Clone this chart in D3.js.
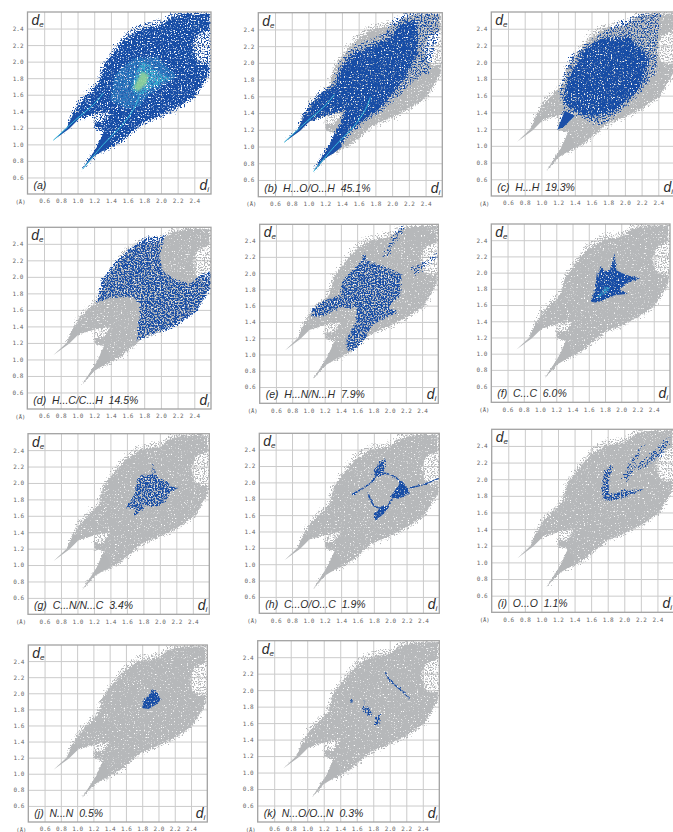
<!DOCTYPE html>
<html>
<head>
<meta charset="utf-8">
<script src="https://cdn.jsdelivr.net/npm/d3@7"></script>
<style>
html, body { margin: 0; padding: 0; background: #fff; overflow: hidden; }
svg { display: block; }
.tick text { font-family: "DejaVu Sans Mono", monospace; font-size: 6px; fill: #666; }
.domain { stroke: none; }
.tick line { stroke: #cbcbcb; stroke-width: 1; }
.lbl { font-family: "Liberation Sans", sans-serif; font-style: italic; fill: #2b2b2b; }
</style>
</head>
<body>
<div class="viz"></div>
<script>
// fingerprint plots : outlines, [di, de] in angstrom
var tick_values = [0.6, 0.8, 1.0, 1.2, 1.4, 1.6, 1.8, 2.0, 2.2, 2.4];
var axis_domain = [0.4, 2.6];

var captions = ["(a)", "(b)  H...O/O...H  45.1%", "(c)  H...H  19.3%", "(d)  H...C/C...H  14.5%",
    "(e)  H...N/N...H  7.9%", "(f)  C...C  6.0%", "(g)  C...N/N...C  3.4%", "(h)  C...O/O...C  1.9%",
    "(i)  O...O  1.1%", "(j)  N...N  0.5%", "(k)  N...O/O...N  0.3%"];

// whole plot, thin outer rim
var rim = [[.71,1.05],[.87,1.2],[.92,1.36],[1.01,1.53],[1.15,1.68],[1.24,1.76],[1.29,1.96],[1.43,2.16],[1.57,2.34],
    [1.75,2.46],[2.03,2.51],[2.13,2.6],[2.6,2.6],[2.6,1.88],[2.43,1.58],[2.23,1.44],[1.99,1.32],[1.79,1.24],[1.67,1.14],
    [1.53,1.02],[1.35,.92],[1.25,.9],[1.06,.7],[1.23,.96],[1.32,1.16],[1.21,1.19],[1.19,1.3],[1.22,1.37],[.97,1.29]];
// whole plot, dense part
var core = [[.71,1.05],[.87,1.2],[.93,1.34],[1.03,1.51],[1.17,1.64],[1.26,1.74],[1.31,1.94],[1.44,2.12],[1.58,2.28],
    [1.76,2.4],[2.0,2.44],[2.13,2.54],[2.3,2.58],[2.58,2.58],[2.58,2.38],[2.44,2.32],[2.38,2.18],[2.42,2.02],[2.5,1.97],
    [2.58,1.98],[2.58,1.87],[2.42,1.6],[2.22,1.46],[1.98,1.34],[1.78,1.26],[1.66,1.16],[1.52,1.04],[1.35,.94],[1.25,.92],
    [1.06,.7],[1.23,.96],[1.32,1.16],[1.21,1.19],[1.2,1.27],[1.31,1.27],[1.4,1.4],[1.23,1.37],[.97,1.29]];
// the two narrow tails stay solid
var tail_left = [[.71,1.05],[.87,1.2],[.95,1.36],[1.05,1.36],[1.0,1.29],[.9,1.19]];
var tail_right = [[1.06,.7],[1.2,.86],[1.3,.92],[1.4,1.0],[1.36,1.1],[1.32,1.16],[1.24,.98]];

// (a) density
var a_mid = [[1.45,1.84],[1.67,2.04],[1.95,2.06],[2.19,1.82],[1.83,1.58],[1.75,1.46],[1.59,1.42],[1.39,1.54]];
var a_high = [[1.65,1.7],[1.75,2.0],[1.87,1.96],[1.95,1.88],[2.11,1.8],[1.91,1.7],[1.77,1.6],[1.67,1.62]];
var a_peak = [[1.67,1.68],[1.77,1.88],[1.85,1.84],[1.83,1.74],[1.73,1.64]];
var streak_left = [[.71,1.05],[.98,1.3],[1.19,1.48],[1.31,1.62]];
var streak_right = [[1.06,.7],[1.31,1.0],[1.55,1.25],[1.69,1.46],[1.74,1.59]];

// (b)
var b_all = [[.7,1.06],[.88,1.22],[.92,1.38],[1,1.5],[1.16,1.68],[1.28,1.72],[1.38,2],[1.5,2.16],[1.6,2.22],[1.76,2.28],
    [1.92,2.36],[2,2.5],[2.16,2.6],[2.56,2.6],[2.56,2.32],[2.48,2.08],[2.44,1.88],[2.28,1.8],[2.08,1.6],[1.84,1.4],[1.68,1.3],
    [1.52,1.16],[1.32,.94],[1.24,.9],[1.06,.71],[1.28,1.08],[1.38,1.28],[1.44,1.44],[1.24,1.38],[1,1.3]];
var b_dense = [[.7,1.06],[.9,1.22],[.94,1.36],[1.03,1.5],[1.18,1.66],[1.3,1.72],[1.42,1.98],[1.54,2.12],[1.76,2.2],[1.98,2.3],
    [2.1,2.48],[2.3,2.5],[2.3,2.1],[2.16,1.84],[2.0,1.62],[1.82,1.42],[1.66,1.32],[1.5,1.18],[1.32,.97],[1.24,.93],
    [1.06,.71],[1.28,1.08],[1.38,1.28],[1.44,1.44],[1.24,1.38],[1,1.3]];

// (c)
var c_all = [[1.19,1.19],[1.27,1.45],[1.22,1.63],[1.25,1.79],[1.35,2.07],[1.57,2.22],[1.77,2.4],[2.05,2.52],[2.21,2.58],
    [2.43,2.58],[2.38,2.22],[2.39,1.91],[2.25,1.71],[2.01,1.47],[1.73,1.25],[1.61,1.27],[1.49,1.35],[1.37,1.37],[1.25,1.21]];
var c_dense = [[1.3,1.75],[1.5,2.15],[1.72,2.28],[2.05,2.3],[2.3,2.05],[2.2,1.72],[1.85,1.38],[1.5,1.35],[1.28,1.5]];
var c_tail = [[1.19,1.19],[1.28,1.42],[1.4,1.36],[1.28,1.24]];

// (d)
var d_all = [[1.23,1.69],[1.29,1.96],[1.45,2.18],[1.67,2.38],[1.83,2.49],[1.99,2.48],[2.05,2.52],[1.98,2.26],[2.03,2.06],
    [2.19,1.96],[2.35,1.92],[2.47,2.02],[2.6,2.06],[2.6,1.88],[2.43,1.58],[2.15,1.38],[1.95,1.32],[1.71,1.23],[1.75,1.54],
    [1.75,1.68],[1.65,1.76],[1.43,1.76]];

// (e)
var e_all = [[1.03,1.55],[1.21,1.67],[1.39,1.73],[1.43,1.92],[1.61,2.1],[1.7,2.25],[1.72,2.14],[1.9,2.1],[2.15,1.98],[2.13,1.73],
    [1.98,1.57],[2.1,1.53],[1.78,1.36],[1.68,1.16],[1.55,1.03],[1.47,1.06],[1.47,1.2],[1.59,1.4],[1.59,1.57],[1.39,1.57],
    [1.16,1.47],[1.05,1.47]];
var e_strip_a = [[1.9,2.18],[2.1,2.55],[2.21,2.6],[1.98,2.22]];
var e_strip_b = [[2.27,2.06],[2.5,2.18],[2.6,2.27],[2.6,2.2],[2.3,1.97]];

// (f)
var f_all = [[1.63,1.64],[1.68,1.81],[1.7,2.01],[1.72,1.93],[1.74,2.08],[1.8,2.01],[1.86,2.03],[1.92,2.24],[1.94,2.03],
    [2.06,1.97],[2.23,1.93],[2.06,1.87],[1.98,1.79],[2.08,1.74],[1.92,1.72],[1.78,1.66],[1.68,1.63]];
var f_high = [[1.7,1.68],[1.8,1.83],[1.86,1.81],[1.78,1.72]];

// (g)
var g_all = [[1.59,1.7],[1.69,1.86],[1.73,2.04],[1.79,2.1],[1.91,2.1],[1.92,2.26],[1.94,2.1],[2.07,2.02],[2.15,1.96],[2.23,1.94],
    [2.13,1.9],[2.07,1.78],[1.99,1.72],[1.83,1.72],[1.69,1.59],[1.71,1.69]];

// (h) thin traces and thicker clusters
var h_trace_a = [[1.53,1.85],[1.67,1.93],[1.8,2.03],[1.86,2.18],[1.94,2.28]];
var h_trace_b = [[1.8,2.13],[2.02,2.09],[2.1,2.03],[2.14,1.93]];
var h_trace_c = [[1.82,1.54],[1.94,1.66],[2.06,1.85],[2.17,1.91],[2.39,1.97],[2.6,2.05]];
var h_trace_d = [[1.73,1.87],[1.82,1.7],[1.98,1.7]];
var h_blob_a = [[1.8,1.55],[1.9,1.6],[1.98,1.7],[1.92,1.72],[1.8,1.62]];
var h_blob_b = [[2.0,1.82],[2.14,2.02],[2.2,1.95],[2.24,1.86],[2.1,1.8]];
var h_blob_c = [[1.78,2.1],[1.88,2.28],[1.94,2.26],[1.93,2.12],[1.84,2.06]];

// (i)
var i_all = [[1.86,2.18],[1.76,2.09],[1.73,1.89],[1.74,1.76],[1.9,1.75],[2.24,1.88],[2.02,1.87],[1.82,1.81],[1.81,1.95]];
var i_strip_a = [[1.98,2.01],[2.08,2.23],[2.25,2.45],[2.14,2.21],[2.04,1.99]];
var i_strip_b = [[2.08,2.11],[2.38,2.35],[2.5,2.49],[2.56,2.49],[2.46,2.29],[2.26,2.15]];

// (j)
var j_all = [[1.8,1.82],[1.82,1.92],[1.89,1.98],[1.92,2.05],[1.99,2.0],[2.03,1.92],[1.97,1.86],[1.87,1.8]];

// (k)
var k_blob_a = [[1.69,1.9],[1.69,1.81],[1.76,1.78],[1.8,1.7],[1.74,1.69],[1.67,1.76]];
var k_blob_b = [[1.82,1.67],[1.88,1.7],[1.88,1.58],[1.82,1.56]];
var k_blob_c = [[1.52,1.85],[1.55,1.85],[1.55,1.88],[1.52,1.88]];
var k_trace = [[1.95,2.21],[2.02,2.1],[2.14,2.0],[2.24,1.9]];

// what sits on top of the grey plot, panel by panel
var layers = [
    [[rim, "rimblue"], [core, "fuzz"], [tail_left, "tailblue"], [tail_right, "tailblue"], [a_mid, "mid"], [a_high, "high"], [a_peak, "peak"], [streak_left, "streak"], [streak_right, "streak"]],
    [[b_all, "sparse"], [b_dense, "fuzz"], [tail_left, "tailblue"], [tail_right, "tailblue"], [streak_left, "streak"], [streak_right, "streak"]],
    [[c_all, "sparse"], [c_dense, "fuzz"], [c_tail, "tailblue"]],
    [[d_all, "blueopen"]],
    [[e_all, "blueopen"], [e_strip_a, "sparse"], [e_strip_b, "sparse"]],
    [[f_all, "blue"], [f_high, "high"]],
    [[g_all, "blueopen"]],
    [[h_trace_a, "trace"], [h_trace_b, "trace"], [h_trace_c, "trace"], [h_trace_d, "trace"], [h_blob_a, "blue"], [h_blob_b, "blue"], [h_blob_c, "blueopen"]],
    [[i_all, "blueopen"], [i_strip_a, "sparse"], [i_strip_b, "sparse"]],
    [[j_all, "blue"]],
    [[k_blob_a, "blueopen"], [k_blob_b, "blueopen"], [k_blob_c, "blue"], [k_trace, "trace"]]
];

// page layout : left, right, top, bottom of each frame
var frames = [[27.5,211,12,194],[258.3,442.3,12.7,196.7],[491.3,675,12,196],[27.3,211,227.3,409],[259.7,438.3,224.3,403.3],
    [491.3,670,224,402.3],[28,209.3,433.7,614.3],[259.3,439.3,433.3,613.3],[491.7,674,429.3,612.3],[28.3,207.3,645,822],[257.7,439.3,640.7,822]];

var looks = {
    rimgrey: {fill: "#b4b6b8", filter: "url(#rim)"},
    grey: {fill: "#b6b8ba", filter: "url(#solid)"},
    tailgrey: {fill: "#b4b6b8", filter: "url(#soft1)"},
    rimblue: {fill: "#1c50a6", filter: "url(#rim)"},
    tailblue: {fill: "#1a50a8", filter: "url(#soft1)"},
    blue: {fill: "#174da6", filter: "url(#fine)"},
    fuzz: {fill: "#174da6", filter: "url(#fuzz)"},
    blueopen: {fill: "#174da6", filter: "url(#open)"},
    sparse: {fill: "#174da6", filter: "url(#rim)"},
    mid: {fill: "#2f7fc2", opacity: 0.9, filter: "url(#open)"},
    high: {fill: "#3db0d2", opacity: 0.9, filter: "url(#open)"},
    peak: {fill: "#8fd29a", opacity: 0.9, filter: "url(#soft)"},
    streak: {fill: "none", stroke: "#38bcdc", width: 1, filter: "url(#soft1)"},
    trace: {fill: "none", stroke: "#174da6", width: 1.4, filter: "url(#fine)"}
};

var svg = d3.select(".viz").append("svg").attr("width", 673).attr("height", 832);
var defs = svg.append("defs");

function grain(id, gain, offset, shake) {
    var f = defs.append("filter").attr("id", id).attr("x", "-10%").attr("y", "-10%").attr("width", "120%").attr("height", "120%")
        .attr("color-interpolation-filters", "sRGB");
    f.append("feTurbulence").attr("type", "fractalNoise").attr("baseFrequency", 0.7).attr("numOctaves", 2).attr("seed", 4).attr("result", "t");
    // opaque noise, otherwise the shift below is not centred
    f.append("feColorMatrix").attr("in", "t").attr("type", "matrix")
        .attr("values", "1 0 0 0 0  0 1 0 0 0  0 0 1 0 0  0 0 0 0 1").attr("result", "n");
    f.append("feDisplacementMap").attr("in", "SourceGraphic").attr("in2", "n").attr("scale", shake)
        .attr("xChannelSelector", "R").attr("yChannelSelector", "G").attr("result", "d");
    f.append("feColorMatrix").attr("in", "n").attr("type", "matrix")
        .attr("values", `0 0 0 0 0  0 0 0 0 0  0 0 0 0 0  0 0 ${gain} 0 ${offset}`).attr("result", "m");
    f.append("feComposite").attr("in", "d").attr("in2", "m").attr("operator", "in").attr("result", "c");
    f.append("feGaussianBlur").attr("in", "c").attr("stdDeviation", 0.35);
}
grain("rim", 8, -3.9, 9);
grain("open", 7, -2.8, 5);
grain("fine", 6, -1.6, 3);
grain("fuzz", 6, -1.6, 10);
grain("solid", 6, -1.2, 4);

defs.append("filter").attr("id", "soft").append("feGaussianBlur").attr("stdDeviation", 1.2);
defs.append("filter").attr("id", "soft1").attr("filterUnits", "userSpaceOnUse").attr("x", 0).attr("y", 0).attr("width", 673).attr("height", 832)
    .append("feGaussianBlur").attr("stdDeviation", 0.4);

frames.forEach(function(fr, i) {
    var left = fr[0], right = fr[1], top = fr[2], bottom = fr[3];
    var scale_x = d3.scaleLinear().domain(axis_domain).range([left, right]);
    var scale_y = d3.scaleLinear().domain(axis_domain).range([bottom, top]);

    var x_axis = d3.axisBottom(scale_x).tickValues(tick_values).tickFormat(d3.format(".1f")).tickSize(-(bottom - top)).tickPadding(5);
    var y_axis = d3.axisLeft(scale_y).tickValues(tick_values).tickFormat(d3.format(".1f")).tickSize(-(right - left)).tickPadding(4);

    svg.append("g").attr("transform", `translate(0,${bottom})`).call(x_axis);
    svg.append("g").attr("transform", `translate(${left},0)`).call(y_axis);

    svg.append("clipPath").attr("id", "clip" + i).append("rect")
        .attr("x", left).attr("y", top).attr("width", right - left).attr("height", bottom - top);

    var plot = svg.append("g").attr("clip-path", `url(#clip${i})`);
    var closed = d3.line().x(d => scale_x(d[0])).y(d => scale_y(d[1])).curve(d3.curveLinearClosed);
    var open = d3.line().x(d => scale_x(d[0])).y(d => scale_y(d[1])).curve(d3.curveCatmullRom);

    var marks = (i == 0 ? [] : [[rim, "rimgrey"], [core, "grey"], [tail_left, "tailgrey"], [tail_right, "tailgrey"]]).concat(layers[i]);
    marks.forEach(function(m) {
        var look = looks[m[1]];
        plot.append("path")
            .attr("d", look.stroke ? open(m[0]) : closed(m[0]))
            .attr("fill", look.fill)
            .attr("fill-opacity", look.opacity || 1)
            .attr("stroke", look.stroke || "none")
            .attr("stroke-width", look.width || 0)
            .attr("filter", look.filter);
    });

    svg.append("rect").attr("x", left).attr("y", top).attr("width", right - left).attr("height", bottom - top)
        .attr("fill", "none").attr("stroke", "#a2a2a2").attr("stroke-width", 1.3);

    svg.append("text").attr("x", left - 2).attr("y", bottom + 9.5).attr("text-anchor", "end")
        .attr("font-family", "DejaVu Sans Mono").attr("font-size", 5.5).attr("fill", "#555").text("(Å)");

    var de = svg.append("text").attr("class", "lbl").attr("x", left + 4).attr("y", top + 13).attr("font-size", 14).text("d");
    de.append("tspan").attr("dy", 2).attr("font-size", 8).text("e");
    var di = svg.append("text").attr("class", "lbl").attr("x", right - 2).attr("y", bottom - 4).attr("text-anchor", "end").attr("font-size", 14).text("d");
    di.append("tspan").attr("dy", 2).attr("font-size", 8).text("i");

    svg.append("text").attr("class", "lbl").attr("x", left + 6).attr("y", bottom - 5).attr("font-size", 10.5)
        .style("white-space", "pre").text(captions[i]);
});
</script>
</body>
</html>
